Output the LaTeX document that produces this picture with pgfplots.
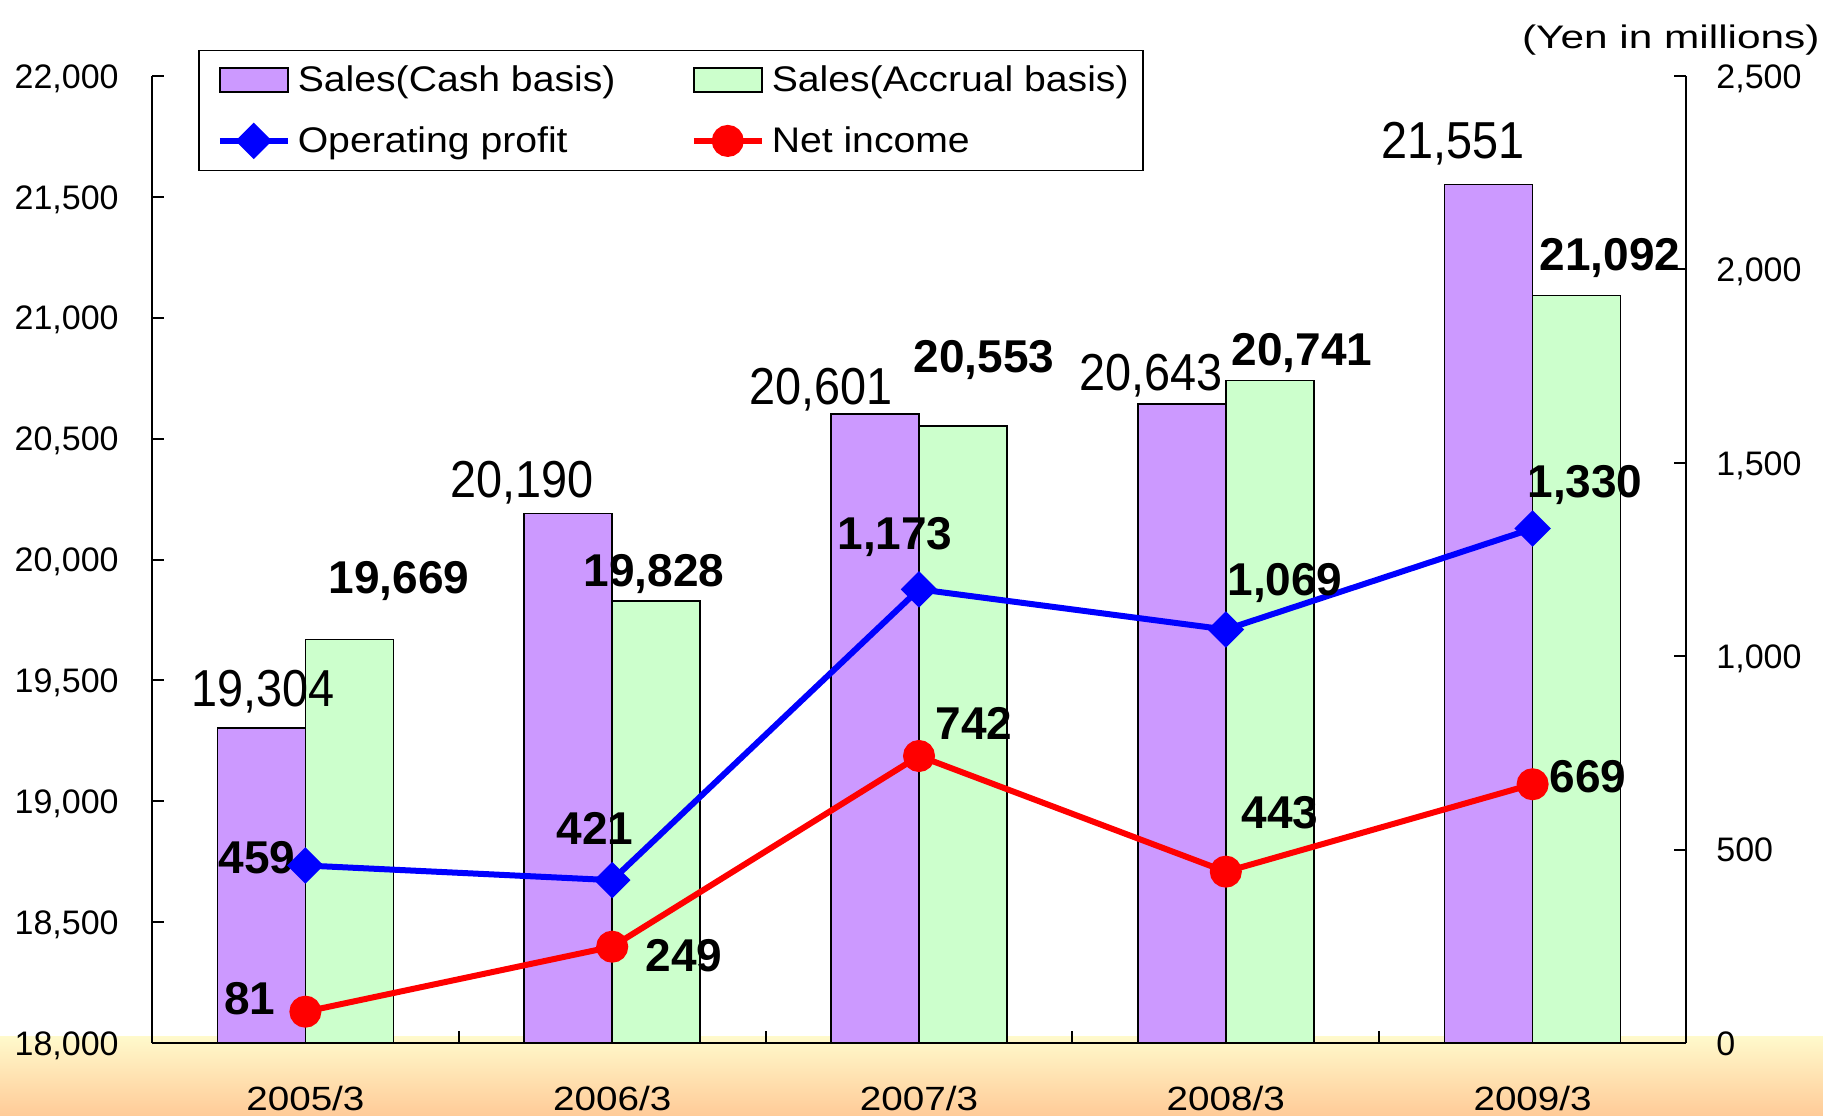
\documentclass[border=0pt]{standalone}
\usepackage{fontspec}
\setmainfont{Liberation Sans}
\newfontfamily\lblfont[FakeStretch=0.9]{Liberation Sans}
\newfontfamily\xfont[FakeStretch=1.15]{Liberation Sans}
\newfontfamily\legfont[FakeStretch=1.1]{Liberation Sans}
\newfontfamily\yenfont[FakeStretch=1.3]{Liberation Sans}
\usepackage{pgfplots}
\pgfplotsset{compat=1.18}
\definecolor{cashc}{HTML}{CC99FF}
\definecolor{accc}{HTML}{CCFFCC}
\definecolor{bandtop}{HTML}{FFFACC}
\definecolor{bandbot}{HTML}{FFCB98}
\pgfplotsset{
  mybarlegend/.style={legend image code/.code={\draw[##1] (0pt,-6pt) rectangle (34pt,6pt);}},
  mylinelegend/.style={legend image code/.code={\draw[mark repeat=2,mark phase=2,##1] plot coordinates {(0pt,0pt) (17pt,0pt) (34pt,0pt)};}},
}
\tikzset{
  cashlbl/.style={anchor=base, inner sep=0pt, font=\lblfont\fontsize{26}{30}\selectfont},
  boldlbl/.style={anchor=base, inner sep=0pt, font=\bfseries\fontsize{23}{27}\selectfont},
}
\begin{document}
\begin{tikzpicture}
\fill[white] (0,0) rectangle (911.5pt,557.5pt);
\shade[top color=bandtop, bottom color=bandbot] (0,0) rectangle (911.5pt,39.5pt);
\useasboundingbox (0,0) rectangle (911.5pt,557.5pt);
\node[anchor=base east, inner sep=0pt, font=\yenfont\fontsize{16.3}{19}\selectfont] at (910pt,533pt) {(Yen in millions)};

\begin{axis}[
  at={(76pt,36pt)}, anchor=south west,
  scale only axis, width=767pt, height=483.5pt,
  xmin=-0.5, xmax=4.5, ymin=18000, ymax=22000,
  axis x line*=bottom, axis y line*=left,
  tick align=inside,
  x axis line style={line width=1.3pt},
  y axis line style={line width=1pt},
  tick style={black, line width=1pt},
  major tick length=6pt,
  xtick={0.5,1.5,2.5,3.5}, xticklabels={},
  extra x ticks={0,1,2,3,4},
  extra x tick labels={2005/3,2006/3,2007/3,2008/3,2009/3},
  extra x tick style={major tick length=0pt, tick style={draw=none},
    xticklabel style={anchor=base, yshift=-33.5pt, inner sep=0pt, font=\xfont\fontsize{16.8}{20}\selectfont}},
  ytick={18000,18500,...,22000},
  scaled y ticks=false,
  yticklabel style={anchor=east, inner sep=0pt, xshift=-16.5pt, text height=12.2pt, text depth=0pt, font=\fontsize{17}{20}\selectfont},
  /pgf/number format/1000 sep={,},
  /pgf/number format/fixed,
  /pgf/number format/assume math mode=true,
  clip mode=individual,
  legend columns=2, legend cell align=left,
  legend style={at={(0.030,1.0269)}, anchor=north west,
    draw=black, line width=0.75pt, fill=white,
    inner xsep=9pt, inner ysep=5.5pt,
    font=\legfont\fontsize{17.8}{21}\selectfont,
    row sep=12pt,
    /tikz/every odd column/.append style={column sep=1.5pt}},
]
\addplot[ybar, bar width=44pt, bar shift=-22pt, fill=cashc, draw=black, line width=0.8pt, mybarlegend]
  coordinates {(0,19304) (1,20190) (2,20601) (3,20643) (4,21551)};
\addlegendentry{\makebox[194.5pt][l]{Sales(Cash basis)}}
\addplot[ybar, bar width=44pt, bar shift=22pt, fill=accc, draw=black, line width=0.8pt, mybarlegend]
  coordinates {(0,19669) (1,19828) (2,20553) (3,20741) (4,21092)};
\addlegendentry{\makebox[174.5pt][l]{Sales(Accrual basis)}}
\addlegendimage{blue, line width=3pt, mark=square*, mark size=4.95pt, mark options={rotate=45, solid}, mylinelegend}
\addlegendentry{\makebox[194.5pt][l]{Operating profit}}
\addlegendimage{red, line width=3pt, mark=*, mark size=6.5pt, mark options={solid}, mylinelegend}
\addlegendentry{\makebox[174.5pt][l]{Net income}}

\node[cashlbl, xshift=-21.2pt, yshift=10.4pt] at (axis cs:0,19304) {19,304};
\node[cashlbl, xshift=-45.1pt, yshift=8pt] at (axis cs:1,20190) {20,190};
\node[cashlbl, xshift=-49pt, yshift=4.8pt] at (axis cs:2,20601) {20,601};
\node[cashlbl, xshift=-37.4pt, yshift=6.75pt] at (axis cs:3,20643) {20,643};
\node[cashlbl, xshift=-40pt, yshift=13.25pt] at (axis cs:4,21551) {21,551};

\node[boldlbl, xshift=46.8pt, yshift=23.25pt] at (axis cs:0,19669) {19,669};
\node[boldlbl, xshift=20.9pt, yshift=7.05pt] at (axis cs:1,19828) {19,828};
\node[boldlbl, xshift=32.5pt, yshift=26.9pt] at (axis cs:2,20553) {20,553};
\node[boldlbl, xshift=38.1pt, yshift=7.2pt] at (axis cs:3,20741) {20,741};
\node[boldlbl, xshift=38.7pt, yshift=12.3pt] at (axis cs:4,21092) {21,092};
\end{axis}

\begin{axis}[
  at={(76pt,36pt)}, anchor=south west,
  scale only axis, width=767pt, height=483.5pt,
  xmin=-0.5, xmax=4.5, ymin=0, ymax=2500,
  axis x line=none, axis y line*=right,
  tick align=inside,
  y axis line style={line width=1pt},
  tick style={black, line width=1pt},
  major tick length=6pt,
  ytick={0,500,...,2500},
  scaled y ticks=false,
  yticklabel style={anchor=west, inner sep=0pt, xshift=15pt, text height=12.2pt, text depth=0pt, font=\fontsize{17}{20}\selectfont},
  /pgf/number format/1000 sep={,},
  /pgf/number format/fixed,
  /pgf/number format/assume math mode=true,
  clip=false,
]
\addplot[blue, line width=3pt, mark=square*, mark size=4.95pt, mark options={rotate=45, solid}]
  coordinates {(0,459) (1,421) (2,1173) (3,1069) (4,1330)};
\addplot[red, line width=3pt, mark=*, mark size=6.5pt, mark options={solid}]
  coordinates {(0,81) (1,249) (2,742) (3,443) (4,669)};

\node[boldlbl, xshift=-24.2pt, yshift=-4.25pt] at (axis cs:0,459) {459};
\node[boldlbl, xshift=-8.6pt, yshift=17.6pt] at (axis cs:1,421) {421};
\node[boldlbl, xshift=-12pt, yshift=19.65pt] at (axis cs:2,1173) {1,173};
\node[boldlbl, xshift=29.6pt, yshift=17.25pt] at (axis cs:3,1069) {1,069};
\node[boldlbl, xshift=26.2pt, yshift=15.5pt] at (axis cs:4,1330) {1,330};

\node[boldlbl, xshift=-27.7pt, yshift=-1.65pt] at (axis cs:0,81) {81};
\node[boldlbl, xshift=35.9pt, yshift=-12.65pt] at (axis cs:1,249) {249};
\node[boldlbl, xshift=27.5pt, yshift=8.5pt] at (axis cs:2,742) {742};
\node[boldlbl, xshift=27.1pt, yshift=21.8pt] at (axis cs:3,443) {443};
\node[boldlbl, xshift=27.7pt, yshift=-3.9pt] at (axis cs:4,669) {669};
\end{axis}
\end{tikzpicture}
\end{document}
